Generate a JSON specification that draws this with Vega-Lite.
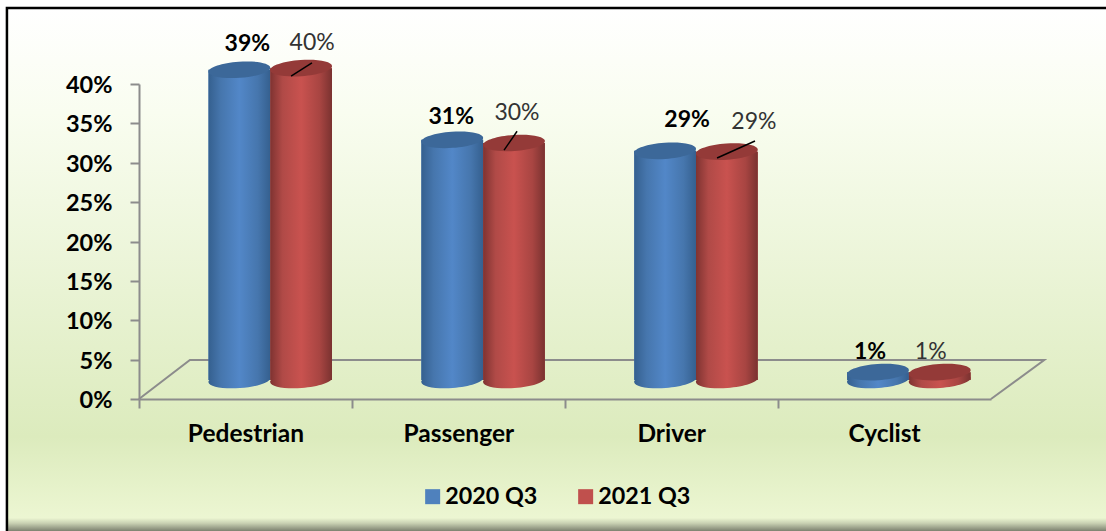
{
"$schema":"https://vega.github.io/schema/vega-lite/v6.json",
"width":1099,"height":523,
"autosize":{"type":"none"},
"padding":{"left":7,"top":8,"right":0,"bottom":0},
"background":"#ffffff",
"config":{"axis":{"labelFont":"Lato","labelFontWeight":"bold","labelColor":"#000000","domainColor":"#8c8c8c","domainWidth":2,"tickColor":"#8c8c8c","tickWidth":2,"tickSize":9,"grid":false}},
"view":{"stroke":null,"fill":{"gradient":"linear","x1":0,"y1":0,"x2":0,"y2":1,"stops":[{"offset":0,"color":"#ffffff"},{"offset":0.2,"color":"#f9fdf0"},{"offset":0.82,"color":"#dcebbd"},{"offset":0.975,"color":"#ecf6d2"},{"offset":0.985,"color":"#c9d1b3"},{"offset":1,"color":"#7d8270"}]}},
"datasets":{
"bars":[
{"category":"Pedestrian","series":"2020 Q3","value":39.4,"label":"39%"},
{"category":"Pedestrian","series":"2021 Q3","value":39.6,"label":"40%"},
{"category":"Passenger","series":"2020 Q3","value":30.5,"label":"31%"},
{"category":"Passenger","series":"2021 Q3","value":30.1,"label":"30%"},
{"category":"Driver","series":"2020 Q3","value":29.1,"label":"29%"},
{"category":"Driver","series":"2021 Q3","value":29,"label":"29%"},
{"category":"Cyclist","series":"2020 Q3","value":1,"label":"1%"},
{"category":"Cyclist","series":"2021 Q3","value":1,"label":"1%"}
],
"frame":[{"seq":1,"u":-0.62,"v":-16.76},{"seq":2,"u":-0.62,"v":49.65},{"seq":3,"u":4.54,"v":49.65}],
"floor":[{"seq":1,"u":0,"v":0},{"seq":2,"u":0.239,"v":4.95},{"seq":3,"u":4.25,"v":4.95},{"seq":4,"u":4,"v":0}],
"leaders":[
{"id":"a","u":0.714,"v":41.0},{"id":"a","u":0.812,"v":42.67},
{"id":"b","u":1.714,"v":31.6},{"id":"b","u":1.775,"v":34.0},
{"id":"c","u":2.714,"v":30.6},{"id":"c","u":2.892,"v":32.76}
]
},
"resolve":{"scale":{"x":"independent"}},
"layer":[
{"data":{"name":"frame"},"mark":{"type":"line","stroke":"#000000","strokeWidth":2.5,"clip":false},
 "encoding":{"order":{"field":"seq"},"x":{"field":"u","type":"quantitative","axis":null,"scale":{"domain":[0,4],"range":[132,984],"nice":false,"zero":false}},
 "y":{"field":"v","type":"quantitative","scale":{"domain":[0,40],"range":[391,76],"nice":false},"axis":{"title":null,"values":[0,5,10,15,20,25,30,35,40],"labelExpr":"datum.value+'%'","offset":-132,"labelFontSize":23.5,"labelPadding":18,"labelOffset":1.5}}}},
{"data":{"name":"floor"},"mark":{"type":"line","stroke":"#8c8c8c","strokeWidth":2},
 "encoding":{"order":{"field":"seq"},"x":{"field":"u","type":"quantitative","axis":null,"scale":{"domain":[0,4],"range":[132,984],"nice":false,"zero":false}},
 "y":{"field":"v","type":"quantitative","scale":{"domain":[0,40],"range":[391,76],"nice":false},"axis":{"title":null,"values":[0,5,10,15,20,25,30,35,40],"labelExpr":"datum.value+'%'","offset":-132,"labelFontSize":23.5,"labelPadding":18,"labelOffset":1.5}}}},
{"data":{"name":"bars"},
 "encoding":{
  "x":{"field":"category","type":"nominal","sort":["Pedestrian","Passenger","Driver","Cyclist"],
   "scale":{"range":[132.5,984],"padding":0},
   "axis":{"title":null,"orient":"bottom","offset":-132,"labelAngle":0,"labelFontSize":24.5,"labelPadding":14,"bandPosition":0,"labelOverlap":false}},
  "xOffset":{"field":"series","type":"nominal","scale":{"range":[69,192.5],"padding":0}},
  "y":{"field":"value","type":"quantitative","scale":{"domain":[0,40],"range":[391,76],"nice":false},
   "axis":{"title":null,"values":[0,5,10,15,20,25,30,35,40],"labelExpr":"datum.value+'%'","offset":-132,"labelFontSize":23.5,"labelPadding":18,"labelOffset":1.5}}
 },
 "layer":[
 {"transform":[{"filter":"datum.series=='2020 Q3'"}],"mark":{"type":"point","filled":true,"opacity":1,"size":3844,"angle":-4,"yOffset":-19,"shape":"M-1,0A1,0.26 0 1,1 1,0A1,0.26 0 1,1 -1,0Z",
   "fill":{"gradient":"linear","x1":0,"x2":1,"y1":0,"y2":0,"stops":[{"offset":0,"color":"#35608f"},{"offset":0.2,"color":"#4676ad"},{"offset":0.5,"color":"#5287c8"},{"offset":0.8,"color":"#4676ad"},{"offset":1,"color":"#35608f"}]}},
  "encoding":{"y":{"datum":0,"type":"quantitative"}}},
 {"transform":[{"filter":"datum.series=='2021 Q3'"}],"mark":{"type":"point","filled":true,"opacity":1,"size":3844,"angle":-4,"yOffset":-19,"shape":"M-1,0A1,0.26 0 1,1 1,0A1,0.26 0 1,1 -1,0Z",
   "fill":{"gradient":"linear","x1":0,"x2":1,"y1":0,"y2":0,"stops":[{"offset":0,"color":"#7f3331"},{"offset":0.2,"color":"#b04a47"},{"offset":0.5,"color":"#c9524f"},{"offset":0.8,"color":"#a84542"},{"offset":1,"color":"#7a3230"}]}},
  "encoding":{"y":{"datum":0,"type":"quantitative"}}},
 {"mark":{"type":"bar","yOffset":-19,"y2Offset":-19},
  "encoding":{"color":{"field":"series","type":"nominal","title":null,
    "scale":{"domain":["2020 Q3","2021 Q3"],"range":["#4f81bd","#c0504d"]},
    "legend":{"orient":"none","legendX":414,"legendY":477,"direction":"horizontal","columns":2,"symbolType":"square","symbolSize":225,"symbolStrokeWidth":0,"labelFont":"Lato","labelFontWeight":"bold","labelFontSize":23.3,"labelColor":"#000000","columnPadding":36,"labelOffset":1,"labelLimit":200}}}},
 {"transform":[{"filter":"datum.series=='2020 Q3'"}],"mark":{"type":"bar","yOffset":-19,"y2Offset":-19,
   "fill":{"gradient":"linear","x1":0,"x2":1,"y1":0,"y2":0,"stops":[{"offset":0,"color":"#35608f"},{"offset":0.2,"color":"#4676ad"},{"offset":0.5,"color":"#5287c8"},{"offset":0.8,"color":"#4676ad"},{"offset":1,"color":"#35608f"}]}}},
 {"transform":[{"filter":"datum.series=='2021 Q3'"}],"mark":{"type":"bar","yOffset":-19,"y2Offset":-19,
   "fill":{"gradient":"linear","x1":0,"x2":1,"y1":0,"y2":0,"stops":[{"offset":0,"color":"#7f3331"},{"offset":0.2,"color":"#b04a47"},{"offset":0.5,"color":"#c9524f"},{"offset":0.8,"color":"#a84542"},{"offset":1,"color":"#7a3230"}]}}},
 {"mark":{"type":"point","filled":true,"opacity":1,"size":3844,"angle":-4,"yOffset":-19,"shape":"M-1,0A1,0.26 0 1,1 1,0A1,0.26 0 1,1 -1,0Z"},
  "encoding":{"fill":{"condition":{"test":"datum.series=='2020 Q3'","value":"#3c6899"},"value":"#943a38"}}},
 {"transform":[{"filter":"datum.category=='Pedestrian'&&datum.series=='2020 Q3'"}],"mark":{"type":"text","font":"Lato","fontWeight":"bold","fontSize":23,"color":"#000000","dx":8,"dy":-45},"encoding":{"text":{"field":"label"}}},
 {"transform":[{"filter":"datum.category=='Pedestrian'&&datum.series=='2021 Q3'"}],"mark":{"type":"text","font":"Lato","fontSize":23,"color":"#333333","dx":11,"dy":-44},"encoding":{"text":{"field":"label"}}},
 {"transform":[{"filter":"datum.category=='Passenger'&&datum.series=='2020 Q3'"}],"mark":{"type":"text","font":"Lato","fontWeight":"bold","fontSize":23,"color":"#000000","dx":-1,"dy":-42},"encoding":{"text":{"field":"label"}}},
 {"transform":[{"filter":"datum.category=='Passenger'&&datum.series=='2021 Q3'"}],"mark":{"type":"text","font":"Lato","fontSize":23,"color":"#333333","dx":3,"dy":-49},"encoding":{"text":{"field":"label"}}},
 {"transform":[{"filter":"datum.category=='Driver'&&datum.series=='2020 Q3'"}],"mark":{"type":"text","font":"Lato","fontWeight":"bold","fontSize":23,"color":"#000000","dx":22,"dy":-50},"encoding":{"text":{"field":"label"}}},
 {"transform":[{"filter":"datum.category=='Driver'&&datum.series=='2021 Q3'"}],"mark":{"type":"text","font":"Lato","fontSize":23,"color":"#333333","dx":27,"dy":-49},"encoding":{"text":{"field":"label"}}},
 {"transform":[{"filter":"datum.category=='Cyclist'&&datum.series=='2020 Q3'"}],"mark":{"type":"text","font":"Lato","fontWeight":"bold","fontSize":23,"color":"#000000","dx":-8,"dy":-39},"encoding":{"text":{"field":"label"}}},
 {"transform":[{"filter":"datum.category=='Cyclist'&&datum.series=='2021 Q3'"}],"mark":{"type":"text","font":"Lato","fontSize":23,"color":"#333333","dx":-9,"dy":-39},"encoding":{"text":{"field":"label"}}}
 ]},
{"data":{"name":"leaders"},"mark":{"type":"line","stroke":"#000000","strokeWidth":1.5},
 "encoding":{"detail":{"field":"id"},"x":{"field":"u","type":"quantitative","axis":null,"scale":{"domain":[0,4],"range":[132,984],"nice":false,"zero":false}},
 "y":{"field":"v","type":"quantitative","scale":{"domain":[0,40],"range":[391,76],"nice":false},"axis":{"title":null,"values":[0,5,10,15,20,25,30,35,40],"labelExpr":"datum.value+'%'","offset":-132,"labelFontSize":23.5,"labelPadding":18,"labelOffset":1.5}}}}
]
}
